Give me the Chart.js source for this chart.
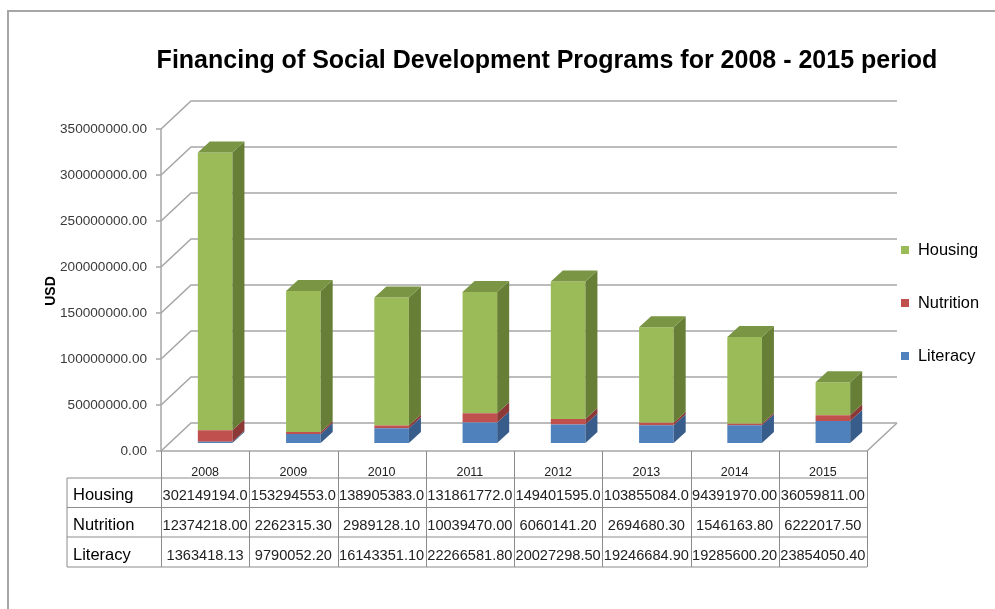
<!DOCTYPE html>
<html>
<head>
<meta charset="utf-8">
<title>Financing of Social Development Programs</title>
<script src="https://cdn.jsdelivr.net/npm/chart.js@4.4.1/dist/chart.umd.min.js"></script>
<style>
  body { margin: 0; background: #fff; }
  canvas { display: block; }
</style>
</head>
<body>
<canvas id="myChart" width="995" height="609"></canvas>
<script>
// Data
const years = ['2008', '2009', '2010', '2011', '2012', '2013', '2014', '2015'];
const housing = [302149194.0, 153294553.0, 138905383.0, 131861772.0, 149401595.0, 103855084.0, 94391970.00, 36059811.00];
const nutrition = [12374218.00, 2262315.30, 2989128.10, 10039470.00, 6060141.20, 2694680.30, 1546163.80, 6222017.50];
const literacy = [1363418.13, 9790052.20, 16143351.10, 22266581.80, 20027298.50, 19246684.90, 19285600.20, 23854050.40];
const yMax = 350000000;
const yStep = 50000000;

const titleText = 'Financing of Social Development Programs for 2008 - 2015 period';
const FONT = '"Liberation Sans", Arial, sans-serif';

// 3D look: back wall offset, bar position inside the depth, bar thickness
const WALL_DX = 30, WALL_DY = 28;
const BAR_X = 10, BAR_Y = 8;
const BAR_DX = 12, BAR_DY = 11;

// table cells show the value cut to 11 characters, like the original sheet
function cell(v) {
  return v.toFixed(2).slice(0, 11);
}

const look3d = {
  id: 'look3d',
  beforeDraw(chart) {
    const ctx = chart.ctx;
    ctx.save();
    ctx.fillStyle = '#fff';
    ctx.fillRect(0, 0, chart.width, chart.height);
    // outer frame
    ctx.strokeStyle = '#a6a6a6';
    ctx.lineWidth = 2;
    ctx.strokeRect(8, 11, chart.width + 20, chart.height + 20);
    // title
    ctx.fillStyle = '#000';
    ctx.font = 'bold 25px ' + FONT;
    ctx.textAlign = 'center';
    ctx.textBaseline = 'alphabetic';
    ctx.fillText(titleText, 547, 68);
    // axis title
    ctx.save();
    ctx.translate(51, 291);
    ctx.rotate(-Math.PI / 2);
    ctx.font = 'bold 14px ' + FONT;
    ctx.textBaseline = 'middle';
    ctx.fillText('USD', 0, 0);
    ctx.restore();
    ctx.restore();
  },
  beforeDatasetsDraw(chart) {
    const ctx = chart.ctx;
    const a = chart.chartArea;
    const y = chart.scales.y;
    const back = a.right + WALL_DX;
    ctx.save();
    ctx.strokeStyle = '#a6a6a6';
    ctx.lineWidth = 1.5;
    y.ticks.forEach(t => {
      const py = y.getPixelForValue(t.value);
      ctx.beginPath();
      ctx.moveTo(a.left - 5, py);
      ctx.lineTo(a.left, py);
      ctx.lineTo(a.left + WALL_DX, py - WALL_DY);
      ctx.lineTo(back, py - WALL_DY);
      ctx.stroke();
    });
    ctx.beginPath();
    ctx.moveTo(a.left, a.top);
    ctx.lineTo(a.left, a.bottom);
    ctx.lineTo(a.right, a.bottom);
    ctx.lineTo(back, a.bottom - WALL_DY);
    ctx.stroke();
    ctx.restore();
    // bars sit a little behind the front plane
    ctx.save();
    ctx.translate(BAR_X, -BAR_Y);
  },
  afterDatasetsDraw(chart) {
    const ctx = chart.ctx;
    const n = chart.data.datasets.length;
    chart.data.datasets.forEach((ds, di) => {
      const meta = chart.getDatasetMeta(di);
      meta.data.forEach(bar => {
        const p = bar.getProps(['x', 'y', 'base', 'width'], true);
        const x0 = p.x - p.width / 2, x1 = p.x + p.width / 2;
        ctx.fillStyle = ds.sideColor;
        ctx.beginPath();
        ctx.moveTo(x1, p.base);
        ctx.lineTo(x1, p.y);
        ctx.lineTo(x1 + BAR_DX, p.y - BAR_DY);
        ctx.lineTo(x1 + BAR_DX, p.base - BAR_DY);
        ctx.closePath();
        ctx.fill();
        if (di === n - 1) {
          ctx.fillStyle = ds.topColor;
          ctx.beginPath();
          ctx.moveTo(x0, p.y);
          ctx.lineTo(x0 + BAR_DX, p.y - BAR_DY);
          ctx.lineTo(x1 + BAR_DX, p.y - BAR_DY);
          ctx.lineTo(x1, p.y);
          ctx.closePath();
          ctx.fill();
        }
      });
    });
    ctx.restore();
  },
  afterDraw(chart) {
    const ctx = chart.ctx;
    const a = chart.chartArea;
    const x = chart.scales.x;
    const colW = (a.right - a.left) / years.length;
    const rows = [478, 507.5, 537, 567];
    const tableLeft = 67;

    ctx.save();
    // data table grid
    ctx.strokeStyle = '#8c8c8c';
    ctx.lineWidth = 1;
    ctx.beginPath();
    rows.forEach(ry => {
      ctx.moveTo(tableLeft, ry);
      ctx.lineTo(a.right, ry);
    });
    ctx.moveTo(tableLeft, rows[0]);
    ctx.lineTo(tableLeft, rows[3]);
    for (let k = 0; k <= years.length; k++) {
      const vx = Math.round(a.left + k * colW) + 0.5;
      ctx.moveTo(vx, a.bottom);
      ctx.lineTo(vx, rows[3]);
    }
    ctx.stroke();

    // years
    ctx.textAlign = 'center';
    ctx.textBaseline = 'alphabetic';
    ctx.fillStyle = '#222';
    ctx.font = '12.5px ' + FONT;
    years.forEach((yr, i) => ctx.fillText(yr, x.getPixelForValue(i), 476));

    // values, top row is the top of the stack
    const shown = chart.data.datasets.slice().reverse();
    const baselines = [500, 530, 560];
    ctx.font = '14.6px ' + FONT;
    shown.forEach((ds, r) => {
      ds.data.forEach((v, i) => ctx.fillText(cell(v), x.getPixelForValue(i), baselines[r]));
    });
    ctx.textAlign = 'left';
    ctx.fillStyle = '#000';
    ctx.font = '16.5px ' + FONT;
    shown.forEach((ds, r) => ctx.fillText(ds.label, 73, baselines[r]));

    // legend
    ctx.textBaseline = 'middle';
    ctx.font = '16.4px ' + FONT;
    shown.forEach((ds, r) => {
      const ly = 250 + r * 53;
      ctx.fillStyle = ds.backgroundColor;
      ctx.fillRect(901, ly - 4, 8, 8);
      ctx.fillStyle = '#000';
      ctx.fillText(ds.label, 918, ly);
    });
    ctx.restore();
  }
};

const data = {
  labels: years,
  datasets: [{
    label: 'Literacy',
    data: literacy,
    backgroundColor: '#4F81BD',
    sideColor: '#385D8A',
    topColor: '#4A73A6'
  }, {
    label: 'Nutrition',
    data: nutrition,
    backgroundColor: '#C0504D',
    sideColor: '#8C3836',
    topColor: '#A84542'
  }, {
    label: 'Housing',
    data: housing,
    backgroundColor: '#9BBB59',
    sideColor: '#677E36',
    topColor: '#7A9645'
  }]
};

const config = {
  type: 'bar',
  data,
  options: {
    responsive: false,
    devicePixelRatio: 1,
    animation: false,
    datasets: {
      bar: { categoryPercentage: 1, barPercentage: 0.392, borderWidth: 0, clip: false }
    },
    layout: { padding: { left: 0, right: 128, top: 129, bottom: 158 } },
    plugins: {
      legend: { display: false },
      title: { display: false },
      tooltip: { enabled: false }
    },
    scales: {
      x: { stacked: true, display: false },
      y: {
        stacked: true,
        min: 0,
        max: yMax,
        grid: { display: false, drawTicks: false },
        border: { display: false },
        ticks: {
          stepSize: yStep,
          padding: 14,
          color: '#3a3a3a',
          font: { family: FONT, size: 13.6 },
          callback: v => v.toFixed(2)
        },
        afterFit(scale) { scale.width = 161; }
      }
    }
  },
  plugins: [look3d]
};

const myChart = new Chart(document.getElementById('myChart'), config);
</script>
</body>
</html>
